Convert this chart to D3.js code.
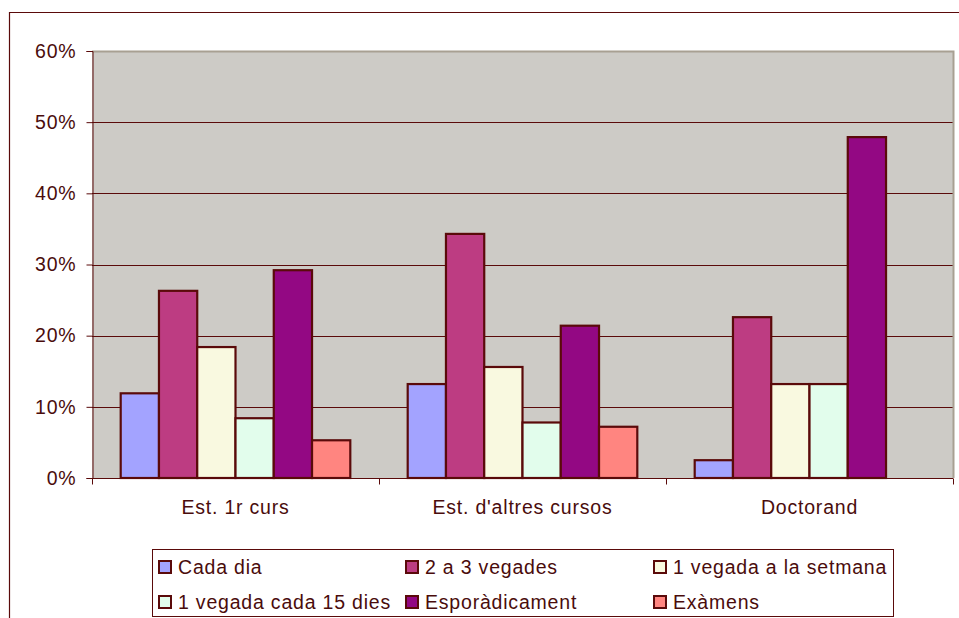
<!DOCTYPE html>
<html>
<head>
<meta charset="utf-8">
<script src="https://cdn.jsdelivr.net/npm/d3@7"></script>
<style>
  body { margin: 0; background: #fff; }
  svg text { font-family: "Liberation Sans", Arial, sans-serif; fill: #4a0c0c; letter-spacing: 0.8px; }
</style>
</head>
<body>
<svg id="chart" width="959" height="618"></svg>
<script>
// categories and series (percent)
var categories = ["Est. 1r curs", "Est. d'altres cursos", "Doctorand"];
var series_names = ["Cada dia", "2 a 3 vegades", "1 vegada a la setmana",
                    "1 vegada cada 15 dies", "Esporàdicament", "Exàmens"];
var cada_dia = [11.9, 13.2, 2.5];
var dos_tres = [26.3, 34.3, 22.6];
var setmana = [18.4, 15.6, 13.2];
var quinze_dies = [8.4, 7.8, 13.2];
var esporadic = [29.2, 21.4, 47.9];
var examens = [5.3, 7.2, 0];
var y_ticks = [0, 10, 20, 30, 40, 50, 60];
var colors = ["#a3a3ff", "#bd3c82", "#f9f9e0", "#e2fdec", "#930883", "#ff8580"];

var values = [cada_dia, dos_tres, setmana, quinze_dies, esporadic, examens];

var svg = d3.select("#chart");
var plot = { left: 92, right: 953, top: 51, bottom: 478 };
var dark = "#5a0a0a";
var font_size = "19.5px";

// outer chart border (cut off on the right/bottom)
svg.append("path")
  .attr("d", "M9.5,640 L9.5,12.5 L970,12.5")
  .attr("fill", "none").attr("stroke", dark).attr("stroke-width", 1.2);

var x0 = d3.scaleBand().domain(categories).range([plot.left, plot.right]);
var x1 = d3.scaleBand().domain(d3.range(series_names.length))
  .range([0, x0.bandwidth()]).paddingOuter(0.75).paddingInner(0);
var y = d3.scaleLinear().domain([0, 60]).range([plot.bottom, plot.top]);

// plot background
svg.append("rect")
  .attr("x", plot.left).attr("y", plot.top)
  .attr("width", plot.right - plot.left).attr("height", plot.bottom - plot.top)
  .attr("fill", "#cdcbc6");

// gridlines
svg.append("g").selectAll("line").data(y_ticks.filter(function(d) { return d > 0 && d < 60; }))
  .enter().append("line")
  .attr("x1", plot.left).attr("x2", plot.right)
  .attr("y1", function(d) { return Math.round(y(d)) + 0.5; })
  .attr("y2", function(d) { return Math.round(y(d)) + 0.5; })
  .attr("stroke", "#5a0a0a").attr("stroke-width", 1);

// plot border top/right (gray)
svg.append("path")
  .attr("d", "M" + plot.left + "," + (plot.top + 0.5) + " L" + (plot.right + 0.5) + "," + (plot.top + 0.5) + " L" + (plot.right + 0.5) + "," + plot.bottom)
  .attr("fill", "none").attr("stroke", "#a8a092").attr("stroke-width", 2);

// bars
var groups = svg.append("g").selectAll("g").data(categories).enter().append("g")
  .attr("transform", function(d) { return "translate(" + x0(d) + ",0)"; });

groups.selectAll("rect")
  .data(function(cat, ci) {
    return values.map(function(s, si) { return { si: si, v: s[ci] }; }).filter(function(d) { return d.v > 0; });
  })
  .enter().append("rect")
  .attr("x", function(d) { return x1(d.si); })
  .attr("y", function(d) { return y(d.v); })
  .attr("width", x1.bandwidth())
  .attr("height", function(d) { return y(0) - y(d.v); })
  .attr("fill", function(d) { return colors[d.si]; })
  .attr("stroke", dark).attr("stroke-width", 2.2);

// y axis
var yAxis = d3.axisLeft(y).tickValues(y_ticks).tickSize(6).tickPadding(10)
  .tickFormat(function(d) { return d + "%"; });
var gy = svg.append("g").attr("transform", "translate(" + (plot.left + 0.5) + ",0)").call(yAxis);
gy.selectAll("line").attr("stroke", dark);
gy.select(".domain").attr("stroke", dark);
gy.selectAll("text").style("font-size", font_size).attr("fill", "#4a0c0c");

// x axis
var xAxis = d3.axisBottom(x0).tickSize(0).tickPadding(22);
var gx = svg.append("g").attr("transform", "translate(0," + (plot.bottom + 0.5) + ")").call(xAxis);
gx.select(".domain").attr("stroke", dark).attr("d", "M" + plot.left + ",0H" + plot.right);
gx.selectAll("text").style("font-size", font_size).attr("fill", "#4a0c0c");
var bounds = x0.domain().map(function(d) { return x0(d); }).concat([plot.right]);
gx.selectAll(".sep").data(bounds).enter().append("line")
  .attr("x1", function(d) { return Math.round(d) + 0.5; })
  .attr("x2", function(d) { return Math.round(d) + 0.5; })
  .attr("y1", 0).attr("y2", 6).attr("stroke", dark);

// legend
var legend = svg.append("g");
legend.append("rect")
  .attr("x", 152.5).attr("y", 549.5).attr("width", 741).attr("height", 67)
  .attr("fill", "#fff").attr("stroke", dark).attr("stroke-width", 1);
var col_x = [159, 406, 654];
var row_y = [567, 602];
var items = legend.selectAll("g.item").data(series_names).enter().append("g")
  .attr("transform", function(d, i) {
    return "translate(" + col_x[i % 3] + "," + row_y[Math.floor(i / 3)] + ")";
  });
items.append("rect")
  .attr("x", 0).attr("y", -6).attr("width", 12).attr("height", 12)
  .attr("fill", function(d, i) { return colors[i]; })
  .attr("stroke", dark).attr("stroke-width", 2);
items.append("text")
  .attr("x", 19).attr("y", 0).attr("dy", "0.35em")
  .style("font-size", font_size)
  .text(function(d) { return d; });
</script>
</body>
</html>
